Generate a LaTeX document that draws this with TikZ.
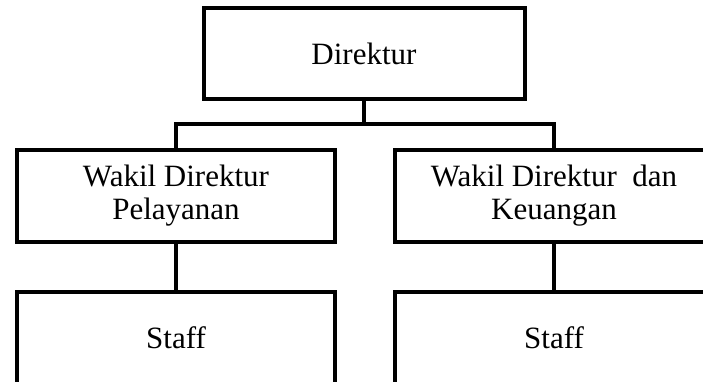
\documentclass[tikz,border=0pt]{standalone}
\usepackage{fontspec}
\setmainfont{Liberation Serif}
\usepackage{tikz}

\begin{document}
\begin{tikzpicture}[
                x=1pt, y=-1pt,
                jabatan/.style={rectangle, draw=black, line width=4pt, minimum width=318pt, minimum height=92pt, align=center, inner sep=0pt, font=\fontsize{31}{33}\selectfont},
                garis/.style={line width=4pt}
                ]
                \useasboundingbox (0,0) rectangle (703,382);
                \clip (0,0) rectangle (703,382);

                % Pimpinan
                \node[jabatan, minimum width=321pt, minimum height=91pt] (direktur) at (364,53.5) {Direktur};

                % Wakil direktur
                \node[jabatan] (wakil1) at (176,196) {Wakil Direktur\\Pelayanan};
                \node[jabatan] (wakil2) at (554,196) {Wakil Direktur~ dan\\Keuangan};

                % Staff
                \node[jabatan] (staff1) at (176,338) {Staff};
                \node[jabatan] (staff2) at (554,338) {Staff};

                % Garis penghubung
                \coordinate (cabang) at (364,124);
                \draw[garis] (direktur.south) -- (cabang);
                \draw[garis] (wakil1.north) |- (cabang) -| (wakil2.north);
                \draw[garis] (wakil1.south) -- (staff1.north);
                \draw[garis] (wakil2.south) -- (staff2.north);
\end{tikzpicture}
\end{document}
